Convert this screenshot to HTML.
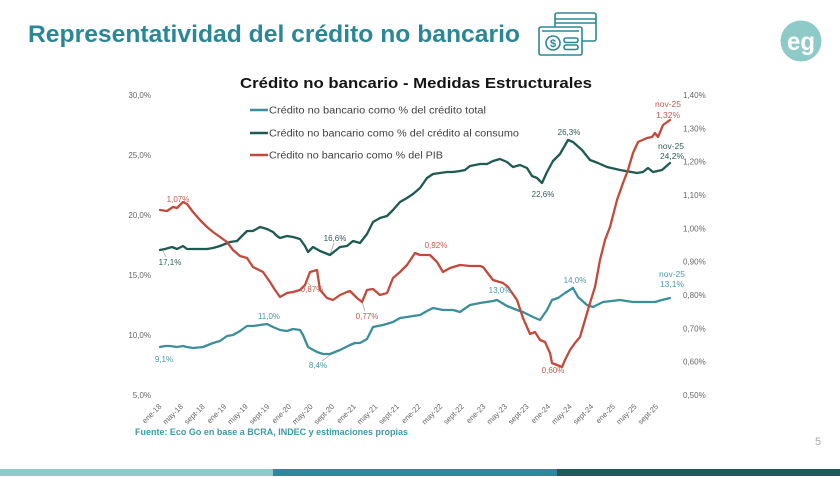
<!DOCTYPE html>
<html>
<head>
<meta charset="utf-8">
<style>
html,body{margin:0;padding:0;background:#fff;}
svg{display:block;}
text{font-family:"Liberation Sans",Arial,sans-serif;}
</style>
</head>
<body>
<svg width="840" height="478" viewBox="0 0 840 478" xmlns="http://www.w3.org/2000/svg">
<rect x="0" y="0" width="840" height="478" fill="#ffffff"/>

<!-- Main title -->
<text x="28" y="42" font-size="24" font-weight="bold" fill="#2b8795" textLength="492" lengthAdjust="spacingAndGlyphs">Representatividad del crédito no bancario</text>

<!-- Icon: cards -->
<g fill="none" stroke="#2b8795" stroke-width="1.6" stroke-linejoin="round">
  <rect x="555" y="13" width="41" height="28" rx="2" fill="#fff"/>
  <line x1="555" y1="19" x2="596" y2="19"/>
  <line x1="555" y1="23" x2="596" y2="23"/>
  <rect x="539" y="27" width="43" height="28" rx="2" fill="#fff"/>
  <line x1="542" y1="31" x2="579" y2="31"/>
  <circle cx="553" cy="43" r="7"/>
  <rect x="564" y="38" width="14" height="4.5" rx="2"/>
  <rect x="564" y="45" width="14" height="4.5" rx="2"/>
</g>
<text x="553" y="47" font-size="11" font-weight="bold" fill="#2b8795" text-anchor="middle">$</text>

<!-- Logo -->
<circle cx="801" cy="41" r="20.5" fill="#8ecbc8"/>
<text x="801" y="50" font-size="25" font-weight="bold" fill="#ffffff" text-anchor="middle" textLength="28" lengthAdjust="spacingAndGlyphs">eg</text>

<!-- Chart title -->
<text x="240" y="88" font-size="15" font-weight="bold" fill="#151515" textLength="352" lengthAdjust="spacingAndGlyphs">Crédito no bancario - Medidas Estructurales</text>

<!-- Left axis labels -->
<g font-size="8" fill="#666" text-anchor="end">
  <text x="151" y="98">30,0%</text>
  <text x="151" y="158">25,0%</text>
  <text x="151" y="218">20,0%</text>
  <text x="151" y="278">15,0%</text>
  <text x="151" y="338">10,0%</text>
  <text x="151" y="398">5,0%</text>
</g>
<!-- Right axis labels -->
<g font-size="8" fill="#666" text-anchor="start">
  <text x="683" y="98">1,40%</text>
  <text x="683" y="131.3">1,30%</text>
  <text x="683" y="164.7">1,20%</text>
  <text x="683" y="198">1,10%</text>
  <text x="683" y="231.3">1,00%</text>
  <text x="683" y="264.7">0,90%</text>
  <text x="683" y="298">0,80%</text>
  <text x="683" y="331.3">0,70%</text>
  <text x="683" y="364.7">0,60%</text>
  <text x="683" y="398">0,50%</text>
</g>

<!-- X axis labels -->
<g font-size="7.6" fill="#666" text-anchor="end">
  <text transform="translate(162,407) rotate(-45)">ene-18</text>
  <text transform="translate(183.6,407) rotate(-45)">may-18</text>
  <text transform="translate(205.2,407) rotate(-45)">sept-18</text>
  <text transform="translate(226.8,407) rotate(-45)">ene-19</text>
  <text transform="translate(248.4,407) rotate(-45)">may-19</text>
  <text transform="translate(270,407) rotate(-45)">sept-19</text>
  <text transform="translate(291.6,407) rotate(-45)">ene-20</text>
  <text transform="translate(313.2,407) rotate(-45)">may-20</text>
  <text transform="translate(334.8,407) rotate(-45)">sept-20</text>
  <text transform="translate(356.4,407) rotate(-45)">ene-21</text>
  <text transform="translate(378,407) rotate(-45)">may-21</text>
  <text transform="translate(399.6,407) rotate(-45)">sept-21</text>
  <text transform="translate(421.2,407) rotate(-45)">ene-22</text>
  <text transform="translate(442.8,407) rotate(-45)">may-22</text>
  <text transform="translate(464.4,407) rotate(-45)">sept-22</text>
  <text transform="translate(486,407) rotate(-45)">ene-23</text>
  <text transform="translate(507.6,407) rotate(-45)">may-23</text>
  <text transform="translate(529.2,407) rotate(-45)">sept-23</text>
  <text transform="translate(550.8,407) rotate(-45)">ene-24</text>
  <text transform="translate(572.4,407) rotate(-45)">may-24</text>
  <text transform="translate(594,407) rotate(-45)">sept-24</text>
  <text transform="translate(615.6,407) rotate(-45)">ene-25</text>
  <text transform="translate(637.2,407) rotate(-45)">may-25</text>
  <text transform="translate(658.8,407) rotate(-45)">sept-25</text>
</g>

<!-- Legend -->
<g stroke-width="2.6">
  <line x1="250" y1="110" x2="268" y2="110" stroke="#3b8e9a"/>
  <line x1="250" y1="133" x2="268" y2="133" stroke="#1f5a52"/>
  <line x1="250" y1="155" x2="268" y2="155" stroke="#c24a3c"/>
</g>
<g font-size="10" fill="#404040">
  <text x="269" y="113.5" textLength="217" lengthAdjust="spacingAndGlyphs">Crédito no bancario como % del crédito total</text>
  <text x="269" y="136.5" textLength="250" lengthAdjust="spacingAndGlyphs">Crédito no bancario como % del crédito al consumo</text>
  <text x="269" y="158.5" textLength="174" lengthAdjust="spacingAndGlyphs">Crédito no bancario como % del PIB</text>
</g>

<!-- Leader lines -->
<g stroke="#999" stroke-width="0.7" fill="none">
  <line x1="163" y1="251" x2="166" y2="257"/>
  <line x1="330" y1="255" x2="334" y2="243"/>
  <line x1="308" y1="283" x2="311" y2="286"/>
  <line x1="362" y1="302" x2="365" y2="311"/>
  <line x1="330" y1="355" x2="322" y2="361"/>
</g>

<!-- Series: Dark green (consumo) -->
<polyline fill="none" stroke="#1f5a52" stroke-width="2.3" stroke-linejoin="round" stroke-linecap="round"
points="160,250 165,249 172,247 177,249 183,246 187,249 193,249 200,249 207,249 213,248 220,246 225,244 230,242 237,241 242,236 247,231 253,231 260,227 267,229 273,232 277,236 280,238 287,236 293,237 300,239 305,246 308,252 313,247 320,251 325,253 330,255 335,251 340,247 347,246 353,241 360,243 367,234 373,222 380,218 387,216 393,210 400,202 407,198 413,194 420,188 427,178 433,174 440,173 447,172 453,172 460,171 465,170 470,166 480,164 487,164 493,161 500,159 507,162 513,167 520,165 527,168 532,176 537,178 542,183 547,172 553,161 560,154 568,140 573,142 582,150 590,160 598,163 607,167 620,170 637,173 643,172 648,168 653,172 662,170 670,163"/>

<!-- Series: Teal (total) -->
<polyline fill="none" stroke="#3b8e9a" stroke-width="2.3" stroke-linejoin="round" stroke-linecap="round"
points="160,347 165,346 170,346 177,347 183,346 187,347 193,348 203,347 213,343 220,341 227,336 233,335 240,331 247,326 253,326 260,325 267,324 273,327 280,330 287,331 293,329 300,330 303,335 308,347 317,352 323,354 330,354 340,350 350,345 355,343 360,343 367,339 373,327 383,325 393,322 400,318 407,317 413,316 420,315 427,311 433,308 443,310 453,310 460,312 470,305 480,303 493,301 497,300 507,306 517,310 523,312 533,317 540,320 547,310 552,300 558,298 565,293 573,288 578,297 587,305 593,307 603,302 620,300 633,302 647,302 655,302 662,300 670,298"/>

<!-- Series: Red (PIB) -->
<polyline fill="none" stroke="#c24a3c" stroke-width="2.3" stroke-linejoin="round" stroke-linecap="round"
points="160,210 167,211 173,207 177,208 183,202 187,204 193,212 200,220 207,227 213,232 220,237 227,242 233,250 240,256 247,258 253,267 263,272 270,282 275,290 280,297 287,293 293,292 300,290 305,285 310,272 317,270 320,290 327,298 333,300 340,295 347,292 350,291 357,298 362,302 367,290 373,289 380,295 387,293 393,278 400,272 407,265 415,253 420,255 430,255 437,262 443,272 450,268 460,265 470,266 480,266 483,267 493,280 503,283 508,287 517,300 523,318 530,334 535,332 540,340 545,342 550,353 552,363 557,365 562,367 565,360 570,350 575,343 580,337 585,320 590,303 595,287 600,260 605,240 610,227 617,200 623,183 628,170 633,153 638,142 647,138 652,137 655,133 658,137 663,125 670,120"/>

<!-- Data labels -->
<g font-size="8" text-anchor="middle">
  <text x="170" y="265" fill="#2c5f58">17,1%</text>
  <text x="164" y="362" fill="#4a9aa6">9,1%</text>
  <text x="178" y="202" fill="#c25a4c">1,07%</text>
  <text x="335" y="241" fill="#2c5f58">16,6%</text>
  <text x="269" y="319" fill="#4a9aa6">11,0%</text>
  <text x="312" y="292" fill="#c25a4c">0,87%</text>
  <text x="318" y="368" fill="#4a9aa6">8,4%</text>
  <text x="367" y="319" fill="#c25a4c">0,77%</text>
  <text x="436" y="248" fill="#c25a4c">0,92%</text>
  <text x="569" y="135" fill="#2c5f58">26,3%</text>
  <text x="543" y="197" fill="#2c5f58">22,6%</text>
  <text x="500" y="293" fill="#4a9aa6">13,0%</text>
  <text x="575" y="283" fill="#4a9aa6">14,0%</text>
  <text x="553" y="373" fill="#c25a4c">0,60%</text>
</g>
<g font-size="8.5" text-anchor="middle">
  <text x="668" y="107" fill="#c25a4c">nov-25</text>
  <text x="668" y="118" fill="#c25a4c">1,32%</text>
  <text x="671" y="149" fill="#2c5f58">nov-25</text>
  <text x="672" y="159" fill="#2c5f58">24,2%</text>
  <text x="672" y="277" fill="#4a9aa6">nov-25</text>
  <text x="672" y="287" fill="#4a9aa6">13,1%</text>
</g>

<!-- Footer source -->
<text x="135" y="435" font-size="9.5" font-weight="bold" fill="#3d98a6" textLength="273" lengthAdjust="spacingAndGlyphs">Fuente: Eco Go en base a BCRA, INDEC y estimaciones propias</text>

<!-- Page number -->
<text x="818" y="445" font-size="11" fill="#aaaaaa" text-anchor="middle">5</text>

<!-- Bottom bar -->
<rect x="0" y="469" width="273" height="7" fill="#8fcaca"/>
<rect x="273" y="469" width="284" height="7" fill="#2b8a9a"/>
<rect x="557" y="469" width="283" height="7" fill="#1e5858"/>
</svg>
</body>
</html>
